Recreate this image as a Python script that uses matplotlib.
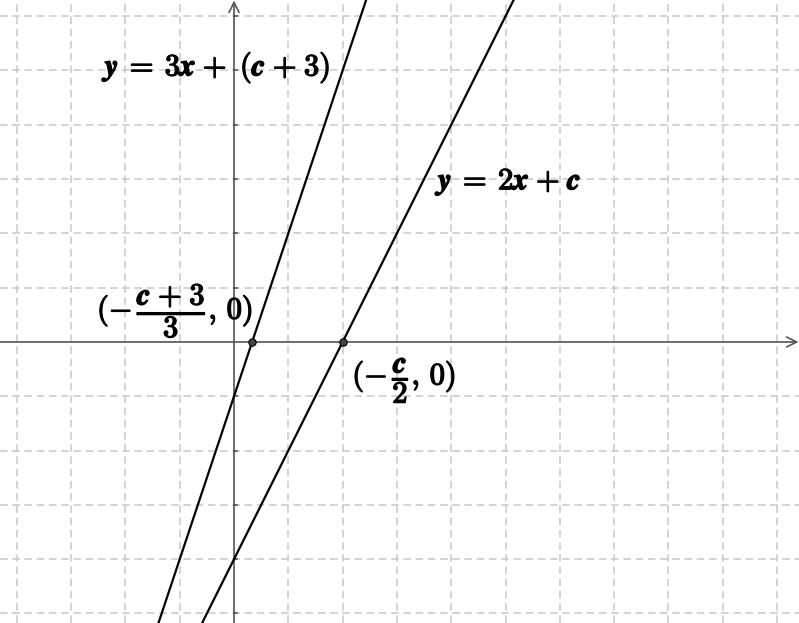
import matplotlib
matplotlib.use("Agg")
import matplotlib.pyplot as plt
import matplotlib.patheffects as pe
import numpy as np

plt.rcParams['mathtext.fontset'] = 'cm'

# parameter and the two lines y = m*x + b
c = -4
slopes = [3, 2]
intercepts = [c + 3, c]
labels = [r'$\boldsymbol{y}\:=\:\mathbf{3}\boldsymbol{x}\;{+}\;\:(\boldsymbol{c}\;{+}\;\mathbf{3})$',
          r'$\boldsymbol{y}\:=\:\mathbf{2}\boldsymbol{x}\;{+}\;\boldsymbol{c}$']
label_pos = [(-0.28, 5.05), (5.10, 2.95)]
root_labels = [r'$(-\,\dfrac{\boldsymbol{c}\;{+}\;\mathbf{3}}{\mathbf{3}},\,\mathbf{0})$',
               r'$(-\,\dfrac{\boldsymbol{c}}{\mathbf{2}},\,\mathbf{0})$']
root_label_pos = [(-1.09, 0.57), (3.13, -0.72)]

x_min, x_max = -4.31, 10.405
y_min, y_max = -5.175, 6.298

fig = plt.figure(figsize=(7.99, 6.23), dpi=100)
ax = fig.add_axes([0, 0, 1, 1])
ax.set_xlim(x_min, x_max)
ax.set_ylim(y_min, y_max)
ax.set_axis_off()

# dashed grid
for gx in np.arange(np.ceil(x_min), x_max, 1):
    if gx != 0:
        ax.axvline(gx, color='#c8c8c8', lw=1.1, ls=(0, (5, 3)), zorder=0)
for gy in np.arange(np.ceil(y_min), y_max, 1):
    if gy != 0:
        ax.axhline(gy, color='#c8c8c8', lw=1.1, ls=(0, (5, 3)), zorder=0)

# axes with arrows
ax.annotate('', xy=(x_max - 0.01, 0), xytext=(x_min, 0),
            arrowprops=dict(arrowstyle='->', color='#555555', lw=1.2,
                            mutation_scale=18, shrinkA=0, shrinkB=0), zorder=2)
ax.annotate('', xy=(0, y_max - 0.01), xytext=(0, y_min),
            arrowprops=dict(arrowstyle='->', color='#555555', lw=1.2,
                            mutation_scale=18, shrinkA=0, shrinkB=0), zorder=2)
for ty in np.arange(np.ceil(y_min), y_max, 1):
    if ty != 0:
        ax.plot([0, 0.05], [ty, ty], color='#555555', lw=1.2, zorder=2)

# the lines
xs = np.array([x_min, x_max])
for m, b in zip(slopes, intercepts):
    ax.plot(xs, m * xs + b, color='black', lw=1.6, zorder=3)

# x intercepts
roots = [-b / m for m, b in zip(slopes, intercepts)]
ax.scatter(roots, [0, 0], s=28, color='#444444', edgecolor='black',
           linewidth=0.8, zorder=4)

bold = [pe.withStroke(linewidth=1.0, foreground='black')]
for txt, (tx, ty) in zip(labels + root_labels, label_pos + root_label_pos):
    ax.text(tx, ty, txt, fontsize=22, ha='center', va='center', zorder=5,
            path_effects=bold)

fig.savefig('out.png', dpi=100)
